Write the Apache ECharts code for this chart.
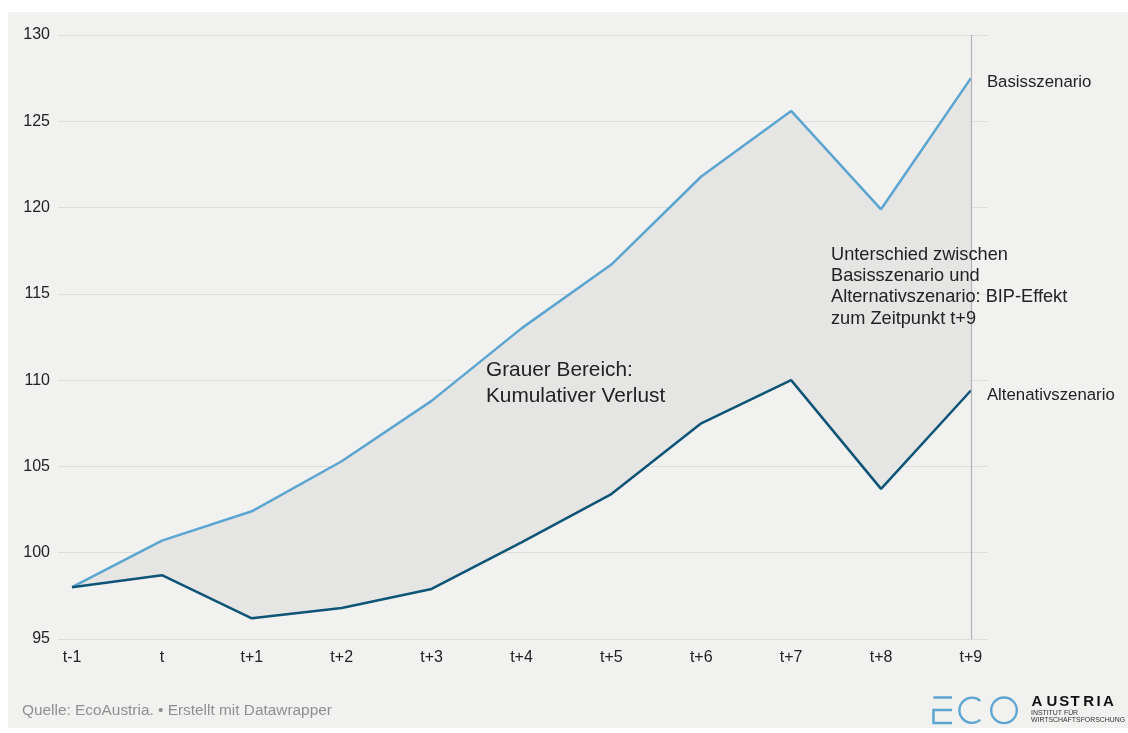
<!DOCTYPE html>
<html><head><meta charset="utf-8">
<script src="https://cdn.jsdelivr.net/npm/echarts@6/dist/echarts.min.js"></script>
<style>
html,body{margin:0;padding:0;background:#fff;}
#bg{position:absolute;left:8px;top:12px;width:1120px;height:716px;background:#f1f1f0;}
#c{position:absolute;left:0;top:0;width:1128px;height:733px;}
</style></head>
<body><div id="bg"></div><div id="c"></div>
<script>
const categories = ['t-1','t','t+1','t+2','t+3','t+4','t+5','t+6','t+7','t+8','t+9'];
const basis = [98.0,100.7,102.4,105.3,108.8,113.0,116.7,121.8,125.6,119.9,127.5];
const alternativ = [98.0,98.7,96.2,96.8,97.9,100.6,103.4,107.5,110.0,103.7,109.4];
const yTicks = [95,100,105,110,115,120,125,130];

const FONT = '"Liberation Sans", Arial, sans-serif';
const chart = echarts.init(document.getElementById('c'), null, {renderer:'canvas'});
const idx = categories.map((_, i) => i);

// spaced logo word, drawn letter by letter
const logoWord = 'AUSTRIA';
const logoLetterX = [1031.5, 1046.5, 1059.3, 1070.5, 1083.3, 1096.5, 1103];
const logoLetters = logoWord.split('').map((ch, i) => ({
  type: 'text', left: logoLetterX[i], top: 694, z: 10,
  style: {text: ch, font: 'bold 15px ' + FONT, fill: '#111'}
}));

chart.setOption({
  backgroundColor: 'transparent',
  animation: false,
  grid: {left: 58, right: 140, top: 35, bottom: 94, containLabel: false},
  xAxis: {
    type: 'value', min: -0.156, max: 10.19,
    axisLine: {show: false}, axisTick: {show: false}, splitLine: {show: false},
    axisLabel: {
      customValues: idx, formatter: v => categories[Math.round(v)],
      fontFamily: FONT, fontSize: 16, color: '#222', margin: 11
    }
  },
  yAxis: {
    type: 'value', min: 95, max: 130, interval: 5,
    axisLine: {show: false}, axisTick: {show: false},
    splitLine: {lineStyle: {color: '#dcdcdb', width: 1}},
    axisLabel: {fontFamily: FONT, fontSize: 16, color: '#222', margin: 8,
      customValues: yTicks}
  },
  series: [
    {
      type: 'custom', silent: true, z: 1,
      data: [0],
      renderItem: function (params, api) {
        const pts = [];
        basis.forEach((v, i) => pts.push(api.coord([i, v])));
        for (let i = alternativ.length - 1; i >= 0; i--) pts.push(api.coord([i, alternativ[i]]));
        return {type: 'polygon', shape: {points: pts}, style: {fill: '#e5e5e4', stroke: null}};
      }
    },
    {
      name: 'Basisszenario', type: 'line', z: 3,
      data: basis.map((v, i) => [i, v]),
      symbol: 'none', lineStyle: {color: '#5ba5d0', width: 2.5},
      endLabel: {show: true, formatter: 'Basisszenario', fontFamily: FONT, fontSize: 16.8, color: '#222', distance: 16, offset:[0,4]},
      markLine: {
        silent: true, symbol: 'none', label: {show: false},
        lineStyle: {color: '#b3b3b3', width: 1.2, type: 'solid'},
        data: [{xAxis: 10}]
      }
    },
    {
      name: 'Altenativszenario', type: 'line', z: 4,
      data: alternativ.map((v, i) => [i, v]),
      symbol: 'none', lineStyle: {color: '#0d5476', width: 2.5},
      endLabel: {show: true, formatter: 'Altenativszenario', fontFamily: FONT, fontSize: 16.8, color: '#222', distance: 16, offset:[0,5]}
    }
  ],
  graphic: [
    {type: 'text', left: 486, top: 357, z: 10,
      style: {text: 'Grauer Bereich:\nKumulativer Verlust', font: '20.8px ' + FONT, fill: '#222', lineHeight: 26}},
    {type: 'text', left: 831, top: 244, z: 10,
      style: {text: 'Unterschied zwischen\nBasisszenario und\nAlternativszenario: BIP-Effekt\nzum Zeitpunkt t+9', font: '18.2px ' + FONT, fill: '#222', lineHeight: 21.3}},
    {type: 'text', left: 22, top: 703, z: 10,
      style: {text: 'Quelle: EcoAustria. • Erstellt mit Datawrapper', font: '15.4px ' + FONT, fill: '#8f8f8f'}},
    // logo: ECO
    {type: 'polyline', z: 10, shape: {points: [[952,697.5],[933.5,697.5]]}, style: {stroke: '#5ba5d0', lineWidth: 2.5, fill: null}},
    {type: 'polyline', z: 10, shape: {points: [[952,710],[933.5,710],[933.5,723],[952,723]]}, style: {stroke: '#5ba5d0', lineWidth: 2.5, fill: null}},
    {type: 'arc', z: 10, shape: {cx: 972, cy: 710.3, r: 12.6, startAngle: Math.PI*0.27, endAngle: -Math.PI*0.27, clockwise: true}, style: {stroke: '#5ba5d0', lineWidth: 2.3, fill: null}},
    {type: 'circle', z: 10, shape: {cx: 1004, cy: 710.3, r: 12.8}, style: {stroke: '#5ba5d0', lineWidth: 2.3, fill: null}},
    ...logoLetters,
    {type: 'text', left: 1031, top: 710, z: 10,
      style: {text: 'INSTITUT FÜR\nWIRTSCHAFTSFORSCHUNG', font: '6.9px ' + FONT, fill: '#333', lineHeight: 6.4}}
  ]
});
</script></body></html>
